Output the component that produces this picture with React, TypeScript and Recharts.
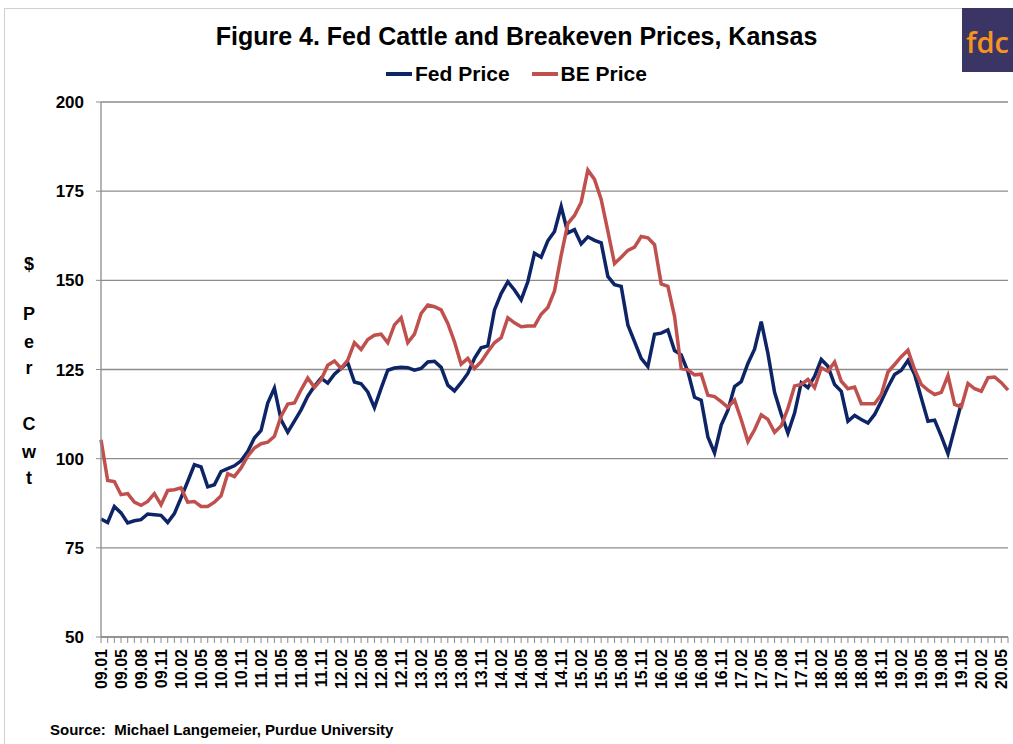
import React from 'react';
import { LineChart, Line, XAxis, YAxis, CartesianGrid } from 'recharts';

// months on the category axis (09.02 is not in the source data)
const months = [
  '09.01', '09.03', '09.04', '09.05', '09.06', '09.07', '09.08', '09.09', '09.10', '09.11', '09.12',
  '10.01', '10.02', '10.03', '10.04', '10.05', '10.06', '10.07', '10.08', '10.09', '10.10', '10.11', '10.12',
  '11.01', '11.02', '11.03', '11.04', '11.05', '11.06', '11.07', '11.08', '11.09', '11.10', '11.11', '11.12',
  '12.01', '12.02', '12.03', '12.04', '12.05', '12.06', '12.07', '12.08', '12.09', '12.10', '12.11', '12.12',
  '13.01', '13.02', '13.03', '13.04', '13.05', '13.06', '13.07', '13.08', '13.09', '13.10', '13.11', '13.12',
  '14.01', '14.02', '14.03', '14.04', '14.05', '14.06', '14.07', '14.08', '14.09', '14.10', '14.11', '14.12',
  '15.01', '15.02', '15.03', '15.04', '15.05', '15.06', '15.07', '15.08', '15.09', '15.10', '15.11', '15.12',
  '16.01', '16.02', '16.03', '16.04', '16.05', '16.06', '16.07', '16.08', '16.09', '16.10', '16.11', '16.12',
  '17.01', '17.02', '17.03', '17.04', '17.05', '17.06', '17.07', '17.08', '17.09', '17.10', '17.11', '17.12',
  '18.01', '18.02', '18.03', '18.04', '18.05', '18.06', '18.07', '18.08', '18.09', '18.10', '18.11', '18.12',
  '19.01', '19.02', '19.03', '19.04', '19.05', '19.06', '19.07', '19.08', '19.09', '19.10', '19.11', '19.12',
  '20.01', '20.02', '20.03', '20.04', '20.05', '20.06',
];

const fedPrice = [
  83.1, 82.1, 86.6, 84.8, 82, 82.6, 82.9, 84.5, 84.3, 84.1,
  82.1, 84.6, 89, 93.6, 98.3, 97.7, 92.1, 92.7, 96.4, 97.2,
  98, 99.4, 102, 105.8, 107.9, 115.6, 119.8, 110.9, 107.4, 110.5,
  113.7, 117.5, 120.3, 122.6, 121.2, 123.7, 125.3, 126.9, 121.5, 121,
  118.7, 114.3, 119.7, 124.8, 125.4, 125.6, 125.5, 124.8, 125.3, 127.1,
  127.3, 125.6, 120.6, 119, 121.3, 123.9, 128.1, 131.1, 131.6, 141.7,
  146.3, 149.6, 147.3, 144.5, 149.6, 157.6, 156.5, 161.1, 163.7, 170.7,
  163.3, 164.2, 160.2, 162.2, 161.2, 160.5, 151.1, 148.8, 148.3, 137.5,
  132.8, 128.1, 125.8, 134.9, 135.2, 136.1, 130.3, 129.1, 124.4, 117.2,
  116.4, 106.1, 101.6, 109.4, 113.6, 120.2, 121.6, 126.7, 130.7, 138.4,
  129.5, 118.6, 112.5, 107.2, 112.8, 121.3, 119.9, 123.1, 127.8, 125.9,
  120.8, 118.9, 110.5, 112.1, 111, 110, 112.4, 116.1, 120.1, 123.6,
  124.8, 127.5, 123.6, 117, 110.5, 110.8, 106.3, 101.4, 108.5, 115.5,
];

const bePrice = [
  105.3, 93.9, 93.6, 89.9, 90.2, 87.8, 86.9, 88, 90.2, 87.1,
  91.1, 91.3, 91.8, 87.8, 88, 86.6, 86.6, 87.8, 89.6, 95.8,
  95, 97.4, 100.7, 103, 104.2, 104.6, 106.3, 111.9, 115.3, 115.6,
  119.3, 122.6, 120, 122.1, 126.2, 127.4, 125.3, 127.6, 132.5, 130.6,
  133.4, 134.6, 134.9, 132.5, 137.5, 139.5, 132.5, 134.9, 140.7, 143.1,
  142.6, 141.7, 137.9, 132.8, 126.5, 128.1, 125.3, 127.2, 130, 132.5,
  133.9, 139.5, 138.1, 137, 137.2, 137.2, 140.5, 142.4, 147, 157,
  165.9, 168.2, 171.9, 180.9, 178.3, 172.7, 163.8, 154.7, 156.5, 158.4,
  159.3, 162.3, 161.9, 160, 149, 148.3, 139.9, 125.3, 124.9, 123.5,
  123.7, 117.8, 117.4, 116, 114.4, 116.4, 110.9, 104.8, 108.1, 112.3,
  111, 107.4, 109.2, 114.1, 120.4, 120.8, 122.2, 119.9, 125.5, 124.5,
  127.1, 121.7, 119.6, 120.1, 115.4, 115.4, 115.4, 118, 124.3, 126.4,
  128.6, 130.4, 125, 120.8, 119.2, 118, 118.6, 123.3, 115.2, 114.5,
  121.1, 119.6, 118.9, 122.7, 122.9, 121.3, 119.2,
];

const yTicks = [50, 75, 100, 125, 150, 175, 200];

const chartData = months.map((m, i) => ({
  month: m,
  fed: i < fedPrice.length ? fedPrice[i] : null,
  be: bePrice[i],
}));

const FONT = '"Liberation Sans", Arial, sans-serif';
const FED_COLOR = '#0d2566';
const BE_COLOR = '#c0504d';

function MonthTick(props: any) {
  const { x, y, payload, index } = props;
  if (index % 3 !== 0) return null;
  return (
    <text
      x={x}
      y={y}
      transform={`rotate(-90, ${x}, ${y})`}
      textAnchor="end"
      dx={-3}
      dy="0.36em"
      fontSize={16}
      fontWeight="bold"
      fontFamily={FONT}
      fill="#000"
    >
      {payload.value}
    </text>
  );
}

const yLabelChars = [
  { ch: '$', top: 254 },
  { ch: 'P', top: 304 },
  { ch: 'e', top: 332 },
  { ch: 'r', top: 358 },
  { ch: 'C', top: 414 },
  { ch: 'w', top: 442 },
  { ch: 't', top: 468 },
];

export default function App() {
  return (
    <div style={{ position: 'relative', width: 1013, height: 744, background: '#fff', fontFamily: FONT, overflow: 'hidden' }}>
      <style>{'body{margin:0}'}</style>
      <div style={{ position: 'absolute', left: 4, top: 8, width: 1020, height: 740, border: '1px solid #d0d0d0' }} />
      <div style={{ position: 'absolute', left: 0, top: 22, width: 1033, textAlign: 'center', fontSize: 25, fontWeight: 'bold' }}>
        Figure 4. Fed Cattle and Breakeven Prices, Kansas
      </div>
      <div style={{ position: 'absolute', left: 0, top: 62, width: 1033, display: 'flex', justifyContent: 'center', fontSize: 21, fontWeight: 'bold' }}>
        <span style={{ display: 'inline-flex', alignItems: 'center', marginRight: 22 }}>
          <span style={{ width: 26, height: 4, background: FED_COLOR, marginRight: 3 }} />Fed Price
        </span>
        <span style={{ display: 'inline-flex', alignItems: 'center' }}>
          <span style={{ width: 26, height: 4, background: BE_COLOR, marginRight: 3 }} />BE Price
        </span>
      </div>
      {yLabelChars.map((c) => (
        <div key={c.top} style={{ position: 'absolute', left: 20, top: c.top, width: 18, textAlign: 'center', fontSize: 18, fontWeight: 'bold' }}>
          {c.ch}
        </div>
      ))}
      <div style={{ position: 'absolute', left: 962, top: 8, width: 51, height: 64, background: '#3b3566', overflow: 'hidden' }}>
        <div style={{ position: 'absolute', left: 4, top: 14, fontSize: 29, color: '#f7941d', fontFamily: '"Open Sans", sans-serif', fontWeight: 600 }}>fdc</div>
      </div>
      <div style={{ position: 'absolute', left: 50, top: 721, fontSize: 15, fontWeight: 'bold' }}>
        Source:&nbsp;&nbsp;Michael Langemeier, Purdue University
      </div>
      <div style={{ position: 'absolute', left: 0, top: 0 }}>
        <LineChart width={1013} height={744} data={chartData} margin={{ top: 102, right: 5, bottom: 0, left: 0 }}>
          <CartesianGrid vertical={false} stroke="#8c8c8c" strokeWidth={1.3} />
          <XAxis
            dataKey="month"
            interval={0}
            height={107}
            tick={<MonthTick />}
            tickSize={6}
            tickMargin={3}
            stroke="#8c8c8c"
            axisLine={{ stroke: '#8c8c8c', strokeWidth: 1.3 }}
          />
          <YAxis
            domain={[50, 200]}
            ticks={yTicks}
            width={101}
            tickSize={5}
            tickMargin={12}
            stroke="#8c8c8c"
            axisLine={{ stroke: '#8c8c8c', strokeWidth: 1.3 }}
            tick={{ fill: '#000', fontSize: 17, fontWeight: 'bold', fontFamily: FONT }}
          />
          <Line dataKey="fed" stroke={FED_COLOR} strokeWidth={3.5} dot={false} isAnimationActive={false} connectNulls={false} />
          <Line dataKey="be" stroke={BE_COLOR} strokeWidth={3.5} dot={false} isAnimationActive={false} />
        </LineChart>
      </div>
    </div>
  );
}
